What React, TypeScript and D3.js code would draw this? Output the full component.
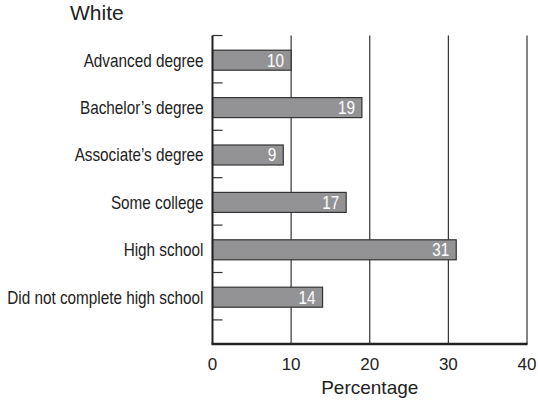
import React from "react";
import * as d3 from "d3";

const title = "White";
const categories = [
  "Advanced degree",
  "Bachelor’s degree",
  "Associate’s degree",
  "Some college",
  "High school",
  "Did not complete high school",
];
const values = [10, 19, 9, 17, 31, 14];
const xTicks = [0, 10, 20, 30, 40];
const xLabel = "Percentage";

const W = 538;
const H = 401;
const left = 212.5;
const right = 527;
const top = 35.5;
const step = 47.4;
const bottom = 344;

const sans = "'Liberation Sans', Arial, sans-serif";
const squeeze = 0.85;

function NarrowText(props: {
  x: number;
  y: number;
  fill: string;
  fontSize: number;
  children: React.ReactNode;
}) {
  return (
    <g transform={`translate(${props.x},${props.y}) scale(${squeeze},1)`}>
      <text
        x={0}
        y={0}
        dy="0.36em"
        textAnchor="end"
        fontFamily={sans}
        fontSize={props.fontSize}
        fill={props.fill}
      >
        {props.children}
      </text>
    </g>
  );
}

export default function App() {
  const x = d3.scaleLinear().domain([0, 40]).range([left, right]);
  const y = d3
    .scaleBand<string>()
    .domain(categories)
    .range([top, top + step * categories.length])
    .paddingInner(0)
    .paddingOuter(0);
  const barH = 20;
  const tickYs = d3.range(categories.length + 1).map((i) => top + i * y.step());

  return (
    <svg
      width={W}
      height={H}
      style={{ position: "absolute", left: 0, top: 0, background: "#fff" }}
    >
      <text x={70} y={20} fontFamily={sans} fontSize={21} fill="#222">
        {title}
      </text>

      {xTicks.slice(1).map((t) => (
        <line
          key={t}
          x1={x(t)}
          x2={x(t)}
          y1={top}
          y2={bottom}
          stroke="#333"
          strokeWidth={1.2}
        />
      ))}

      {categories.map((c, i) => {
        const yc = (y(c) as number) + y.bandwidth() / 2 + 1;
        return (
          <g key={c}>
            <rect
              x={x(0)}
              y={yc - barH / 2}
              width={x(values[i]) - x(0)}
              height={barH}
              fill="#939396"
              stroke="#333"
              strokeWidth={1.2}
            />
            <NarrowText x={x(values[i]) - 7} y={yc} fontSize={18} fill="#fff">
              {values[i]}
            </NarrowText>
            <NarrowText x={left - 9} y={yc} fontSize={18} fill="#222">
              {c}
            </NarrowText>
          </g>
        );
      })}

      {tickYs.map((ty, i) => (
        <line
          key={i}
          x1={left}
          x2={left + 10}
          y1={ty}
          y2={ty}
          stroke="#333"
          strokeWidth={1.2}
        />
      ))}

      <line x1={left} x2={left} y1={top} y2={bottom} stroke="#222" strokeWidth={2} />
      <line x1={left - 1} x2={right + 0.6} y1={bottom} y2={bottom} stroke="#222" strokeWidth={2.5} />

      {xTicks.map((t) => (
        <text
          key={t}
          x={x(t)}
          y={370}
          textAnchor="middle"
          fontFamily={sans}
          fontSize={17}
          fill="#222"
        >
          {t}
        </text>
      ))}
      <text
        x={x(20)}
        y={394}
        textAnchor="middle"
        fontFamily={sans}
        fontSize={19}
        fill="#222"
      >
        {xLabel}
      </text>
    </svg>
  );
}
